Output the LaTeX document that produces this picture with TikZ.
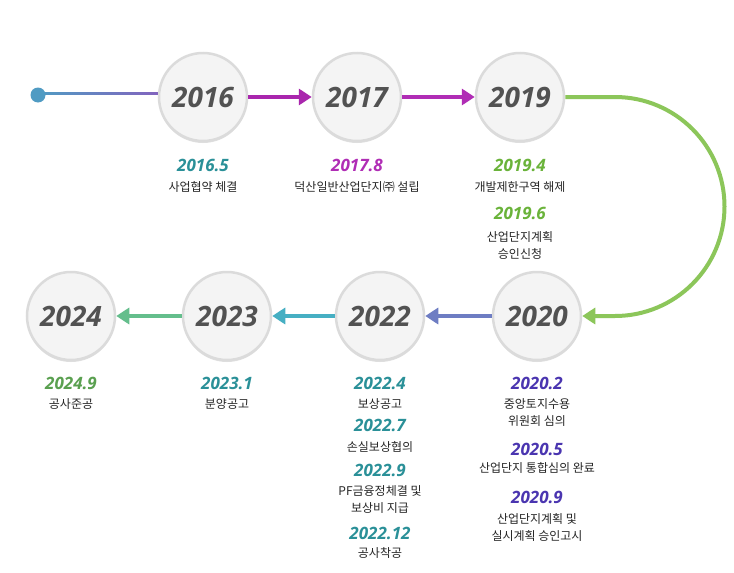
\documentclass[tikz,border=0pt]{standalone}
\usepackage{fontspec}
\setmainfont{Open Sans}
\newfontfamily\kr{Noto Sans CJK KR}
\usetikzlibrary{arrows.meta,shadows}
\definecolor{teal1}{HTML}{2A9098}
\definecolor{mag}{HTML}{B02DB5}
\definecolor{grn}{HTML}{6AB33A}
\definecolor{ind}{HTML}{4A35B0}
\definecolor{grn2}{HTML}{5AA050}
\tikzset{
  yr/.style={circle,minimum size=88pt,fill=gray!9,draw=gray!28,line width=2.5pt,
    drop shadow={shadow xshift=0pt,shadow yshift=-2pt,opacity=0.25},
    font=\bfseries\itshape\fontsize{28}{28}\selectfont,text=black!68},
  dt/.style={font=\bfseries\itshape\fontsize{17}{17}\selectfont},
  lb/.style={font=\kr\fontsize{12}{17}\selectfont,align=center,text=black!85},
  con/.style={line width=4pt,-{Triangle[length=13pt,width=16pt]}},
}
\begin{document}
\begin{tikzpicture}[x=1pt,y=-1pt]
\useasboundingbox (0,0) rectangle (734,573);
\fill[white] (0,0) rectangle (734,573);
% circles
\node[yr] (a) at (203,97) {2016};
\node[yr] (b) at (357,97) {2017};
\node[yr] (c) at (520,97) {2019};
\node[yr] (d) at (537,316) {2020};
\node[yr] (e) at (380,316) {2022};
\node[yr] (f) at (227,316) {2023};
\node[yr] (g) at (71,316) {2024};
% start
\coordinate (s) at (38,95);
\fill[left color={rgb,255:red,80;green,155;blue,195}, right color={rgb,255:red,130;green,100;blue,190}] (s) ++(0,-2.2) rectangle ([yshift=2.2pt]a.west);
\fill[color={rgb,255:red,80;green,155;blue,195}] (s) circle (7.5);
\draw[con,color=mag!85!violet] (a.east) -- (b.west);
\draw[con,color=mag] (b.east) -- (c.west);
\draw[line width=4pt,color={rgb,255:red,140;green,198;blue,90},-{Triangle[length=13pt,width=16pt]}]
  (c.east) -- (615,97) arc(-90:90:109.5) -- (d.east);
\draw[con,color={rgb,255:red,110;green,125;blue,195}] (d.west) -- (e.east);
\draw[con,color={rgb,255:red,70;green,175;blue,195}] (e.west) -- (f.east);
\draw[con,color={rgb,255:red,100;green,190;blue,140}] (f.west) -- (g.east);
% texts top
\node[dt,text=teal1] (t1) at (203,165) {2016.5};
\node[lb] (l1) at (203,187) {사업협약 체결};
\node[dt,text=mag] (t2) at (357,165) {2017.8};
\node[lb] (l2) at (357,187) {덕산일반산업단지㈜ 설립};
\node[dt,text=grn] (t3) at (520,165) {2019.4};
\node[lb] (l3) at (520,187) {개발제한구역 해제};
\node[dt,text=grn] (t4) at (520,213) {2019.6};
\node[lb] (l4) at (520,245) {산업단지계획\\승인신청};
% bottom
\node[dt,text=grn2] (t5) at (71,383) {2024.9};
\node[lb] (l5) at (71,404) {공사준공};
\node[dt,text=teal1] (t6) at (227,383) {2023.1};
\node[lb] (l6) at (227,404) {분양공고};
\node[dt,text=teal1] (t7) at (380,383) {2022.4};
\node[lb] (l7) at (380,404) {보상공고};
\node[dt,text=teal1] (t8) at (380,425) {2022.7};
\node[lb] (l8) at (380,447) {손실보상협의};
\node[dt,text=teal1] (t9) at (380,470) {2022.9};
\node[lb] (l9) at (380,500) {PF금융정체결 및\\보상비 지급};
\node[dt,text=teal1] (t10) at (380,533) {2022.12};
\node[lb] (l10) at (380,553) {공사착공};
\node[dt,text=ind] (t11) at (537,383) {2020.2};
\node[lb] (l11) at (537,413) {중앙토지수용\\위원회 심의};
\node[dt,text=ind] (t12) at (537,449) {2020.5};
\node[lb] (l12) at (537,468) {산업단지 통합심의 완료};
\node[dt,text=ind] (t13) at (537,497) {2020.9};
\node[lb] (l13) at (537,527) {산업단지계획 및\\실시계획 승인고시};
\end{tikzpicture}
\end{document}
